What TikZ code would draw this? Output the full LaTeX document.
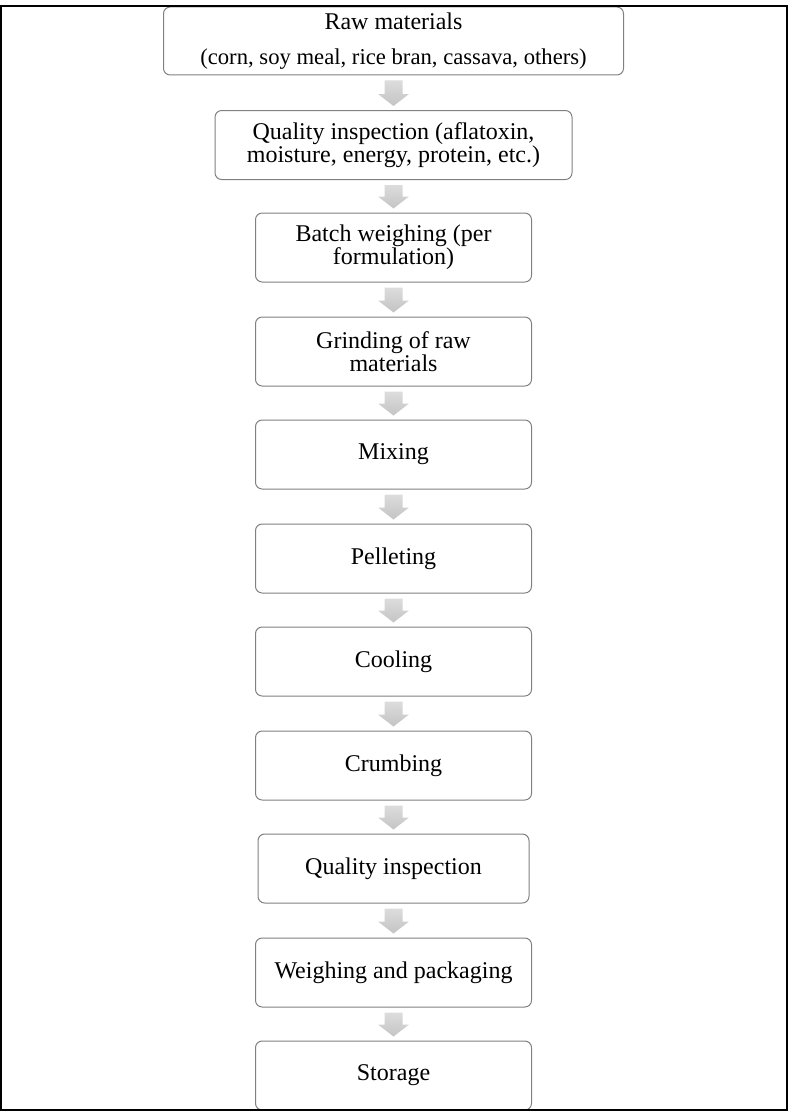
\documentclass[tikz,border=0pt]{standalone}
\usepackage{fontspec}
\setmainfont{Liberation Serif}
\usetikzlibrary{calc}
\definecolor{boxgray}{HTML}{808080}
\definecolor{arrtop}{HTML}{DCDCDC}
\definecolor{arrbot}{HTML}{C4C4C4}
\newcommand{\flowarrow}[2]{%
  \path[arrowfill] ($(#1.south)+(-9,5)$) -- ($(#1.south)+(9,5)$)
    -- ($(#2.north)+(9,-16)$) -- ($(#2.north)+(15.5,-16)$)
    -- ($(#2.north)+(0,-4)$) -- ($(#2.north)+(-15.5,-16)$)
    -- ($(#2.north)+(-9,-16)$) -- cycle;}
\begin{document}
\begin{tikzpicture}[x=0.75pt,y=-0.75pt,
  stepbox/.style={draw=boxgray, line width=0.75pt, rounded corners=5pt,
    fill=white, align=center, inner sep=0pt,
    minimum width=207pt, minimum height=51.75pt,
    font=\fontsize{18}{17.5}\selectfont},
  arrowfill/.style={top color=arrtop, bottom color=arrbot, draw=none}]
\useasboundingbox (0,0) rectangle (788,1113);
\node[stepbox, minimum width=345pt, minimum height=51pt] (raw) at (393.5,41)
  {\raisebox{-1.5pt}{Raw materials}\\[10pt]{\fontsize{17}{17.5}\selectfont (corn, soy meal, rice bran, cassava, others)}};
\node[stepbox, minimum width=267.75pt] (qa) at (393.5,145)
  {Quality inspection (aflatoxin,\\moisture, energy, protein, etc.)};
\node[stepbox] (batch) at (393.5,247.5) {Batch weighing (per\\formulation)};
\node[stepbox] (grind) at (393.5,351.5) {Grinding of raw\\materials};
\node[stepbox] (mix) at (393.5,454.5) {Mixing};
\node[stepbox] (pellet) at (393.5,558.5) {Pelleting};
\node[stepbox] (cool) at (393.5,661.5) {Cooling};
\node[stepbox] (crumb) at (393.5,765.5) {Crumbing};
\node[stepbox, minimum width=203.25pt] (qb) at (393.5,868.5) {Quality inspection};
\node[stepbox] (weigh) at (393.5,972.5) {Weighing and packaging};
\node[stepbox] (store) at (393.5,1075.5) {Storage};
\flowarrow{raw}{qa}
\flowarrow{qa}{batch}
\flowarrow{batch}{grind}
\flowarrow{grind}{mix}
\flowarrow{mix}{pellet}
\flowarrow{pellet}{cool}
\flowarrow{cool}{crumb}
\flowarrow{crumb}{qb}
\flowarrow{qb}{weigh}
\flowarrow{weigh}{store}
\draw[line width=1.5pt] (1,6) rectangle (786.5,1110.3);
\end{tikzpicture}
\end{document}
